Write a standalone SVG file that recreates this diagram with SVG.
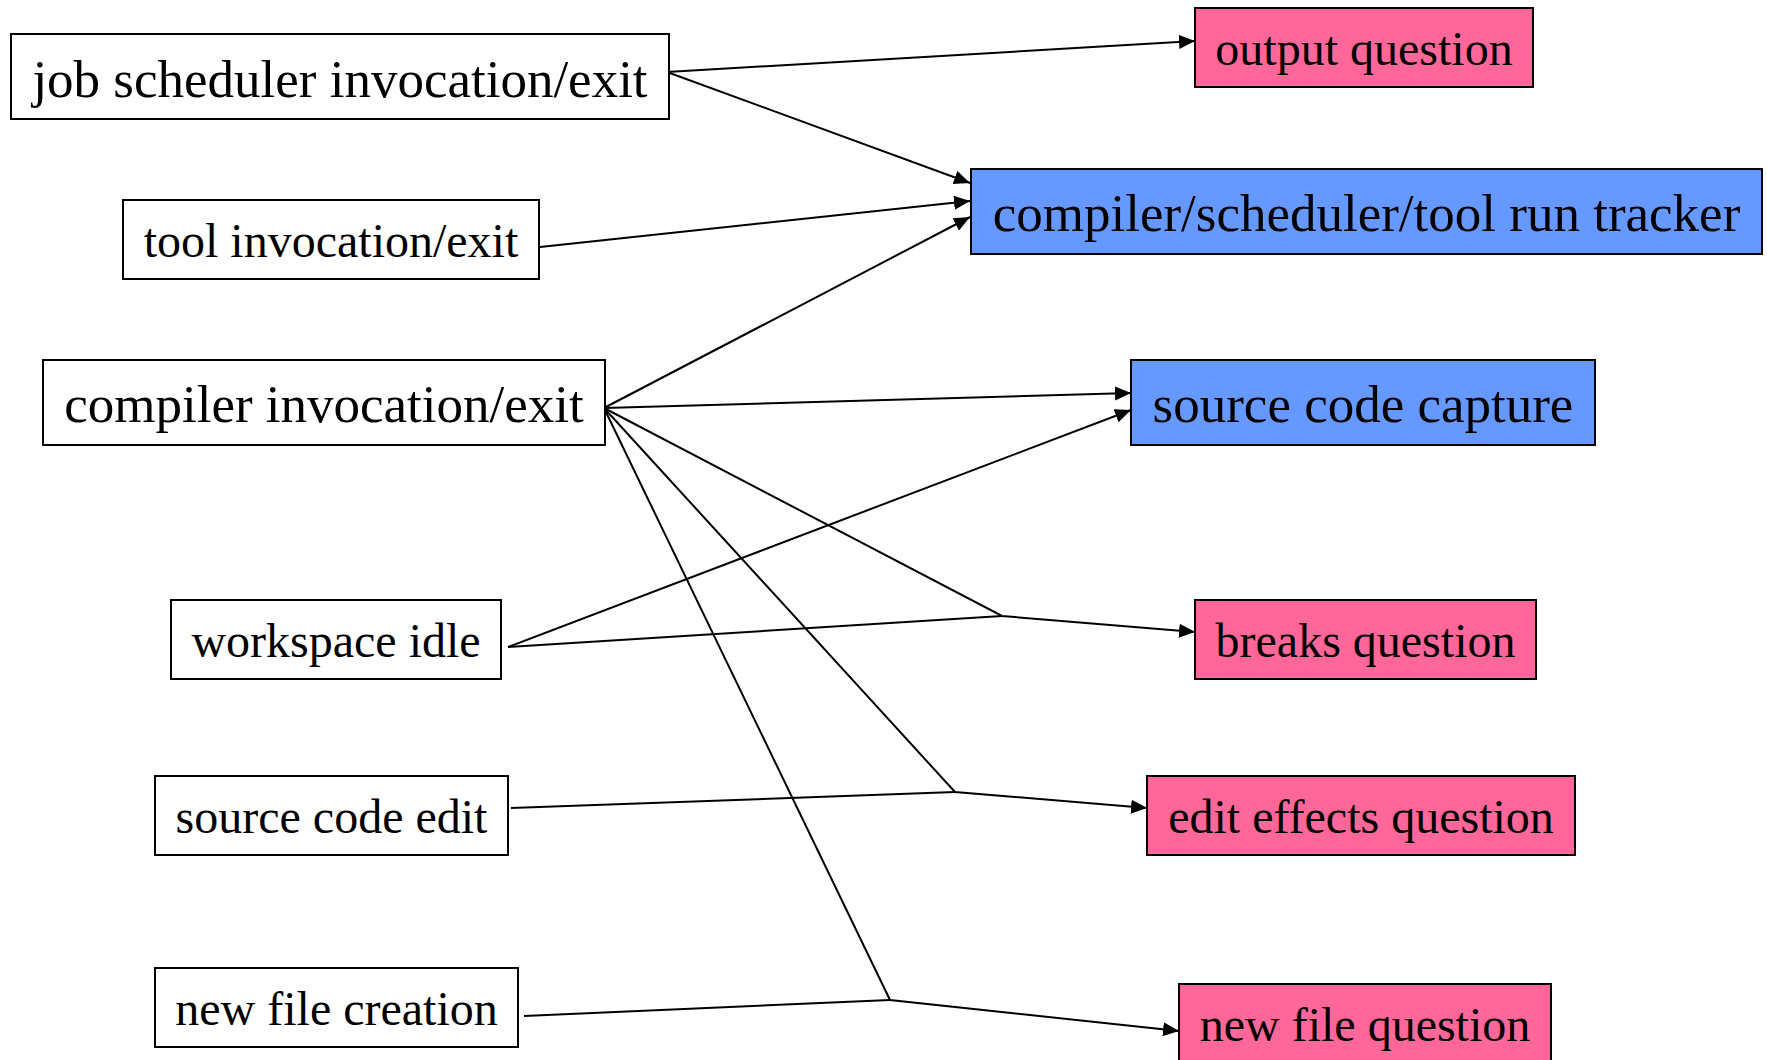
<svg xmlns="http://www.w3.org/2000/svg" width="1767" height="1060" viewBox="0 0 1767 1060">
<style>
.box{stroke:#000;stroke-width:2}
.src{fill:#fff}
.pink{fill:#FF6699}
.blue{fill:#6699FF}
text{font-family:"Liberation Serif","Times New Roman",serif;fill:#000;text-anchor:middle}
.big{font-size:53px}
.small{font-size:48px}
.edge{fill:none;stroke:#000;stroke-width:2}
.arr{marker-end:url(#ah)}
</style>
<defs>
<marker id="ah" markerUnits="userSpaceOnUse" markerWidth="17" markerHeight="15" refX="16" refY="7" orient="auto">
<path d="M0,0 L16,7 L0,14 z" fill="#000"/>
</marker>
</defs>
<rect width="1767" height="1060" fill="#fff"/>
<g id="connectors">
<line class="edge arr" x1="667" y1="72" x2="1195" y2="41"/>
<line class="edge arr" x1="667" y1="72" x2="970" y2="183"/>
<line class="edge arr" x1="540" y1="247" x2="970" y2="201"/>
<line class="edge arr" x1="604" y1="408" x2="970" y2="217"/>
<line class="edge arr" x1="604" y1="408" x2="1131" y2="393"/>
<line class="edge arr" x1="508" y1="647" x2="1131" y2="410"/>
<polyline class="edge arr" points="604,408 1002,616 1195,632"/>
<line class="edge" x1="508" y1="647" x2="1002" y2="616"/>
<polyline class="edge arr" points="604,408 955,792 1147,808"/>
<line class="edge" x1="511" y1="808" x2="955" y2="792"/>
<polyline class="edge arr" points="604,408 890,1000 1179,1031"/>
<line class="edge" x1="524" y1="1016" x2="890" y2="1000"/>
</g>
<g id="job_scheduler">
<rect class="box src" x="11" y="34" width="658" height="85"/>
<text class="big" x="340" y="97">job scheduler invocation/exit</text>
</g>
<g id="tool">
<rect class="box src" x="123" y="200" width="416" height="79"/>
<text class="small" x="331" y="257">tool invocation/exit</text>
</g>
<g id="compiler">
<rect class="box src" x="43" y="360" width="562" height="85"/>
<text class="big" x="324" y="422">compiler invocation/exit</text>
</g>
<g id="workspace_idle">
<rect class="box src" x="171" y="600" width="330" height="79"/>
<text class="small" x="336" y="657">workspace idle</text>
</g>
<g id="source_code_edit">
<rect class="box src" x="155" y="776" width="353" height="79"/>
<text class="small" x="331.5" y="833">source code edit</text>
</g>
<g id="new_file_creation">
<rect class="box src" x="155" y="968" width="363" height="79"/>
<text class="small" x="336.5" y="1025">new file creation</text>
</g>
<g id="output_question">
<rect class="box pink" x="1195" y="8" width="338" height="79"/>
<text class="small" x="1364" y="65">output question</text>
</g>
<g id="run_tracker">
<rect class="box blue" x="971" y="169" width="791" height="85"/>
<text class="big" x="1366.5" y="231">compiler/scheduler/tool run tracker</text>
</g>
<g id="source_code_capture">
<rect class="box blue" x="1131" y="360" width="464" height="85"/>
<text class="big" x="1363" y="422">source code capture</text>
</g>
<g id="breaks_question">
<rect class="box pink" x="1195" y="600" width="341" height="79"/>
<text class="small" x="1365.5" y="657">breaks question</text>
</g>
<g id="edit_effects_question">
<rect class="box pink" x="1147" y="776" width="428" height="79"/>
<text class="small" x="1361" y="833">edit effects question</text>
</g>
<g id="new_file_question">
<rect class="box pink" x="1179" y="984" width="372" height="79"/>
<text class="small" x="1365" y="1041">new file question</text>
</g>
</svg>
